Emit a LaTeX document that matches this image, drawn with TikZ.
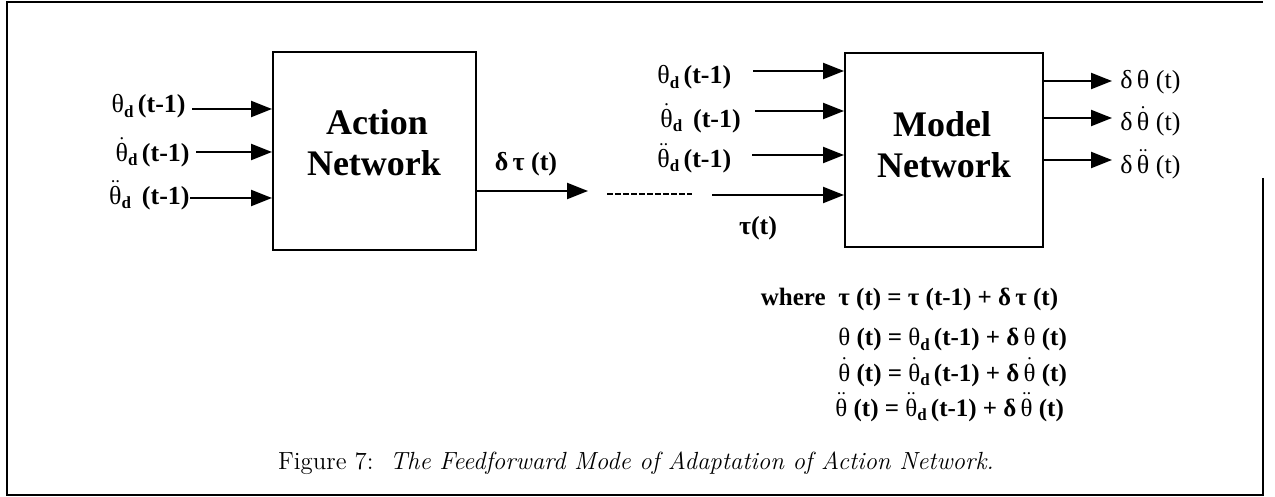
\documentclass[tikz,border=0pt]{standalone}
\usepackage{fontspec}
\usetikzlibrary{arrows.meta}
\newfontfamily\tms{Liberation Serif}
\newcommand{\gth}{{\mdseries θ}}
\newcommand{\thA}{\ensuremath{\dot{\hbox{\gth}}}}
\newcommand{\thB}{\ensuremath{\ddot{\hbox{\gth}}}}
\newcommand{\sd}{\raisebox{-0.4ex}{\fontsize{8.5}{8.5}\selectfont\bfseries d}}
\begin{document}
\begin{tikzpicture}[x=0.5pt,y=-0.5pt,
  lbl/.style={font=\tms\bfseries\fontsize{13}{15}\selectfont, inner sep=0pt},
  olbl/.style={font=\tms\fontsize{13}{15}\selectfont, inner sep=0pt, anchor=west},
  eqn/.style={font=\tms\bfseries\fontsize{12.5}{14}\selectfont, inner sep=0pt, anchor=base west},
  netbox/.style={draw, line width=1pt, inner sep=0pt},
  arr/.style={line width=1.1pt, -{Triangle[length=10.5pt,width=8pt]}},
  title/.style={font=\tms\bfseries\fontsize{18}{22}\selectfont, inner sep=0pt}]
\useasboundingbox (0,0) rectangle (1275,497);
% frame
\draw[line width=1pt] (1263,178) -- (1263,495) -- (7,495) -- (7,2) -- (1263,2);

% boxes
\node[netbox, minimum width=101.5pt, minimum height=99pt] (act) at (374.5,151) {};
\node[netbox, minimum width=99pt, minimum height=97pt] (mod) at (944,150) {};
\node[title] (acttxt) at (377,122) {Action};
\node[title] (actnet) at (374,163) {Network};
\node[title] (modtxt) at (942,124) {Model};
\node[title] (modnet) at (944,165) {Network};

% inputs of action network
\node[lbl, anchor=east] (al1) at (186,106) {\gth\sd\,(t-1)};
\node[lbl, anchor=east] (al2) at (190,152) {\thA\sd\,(t-1)};
\node[lbl, anchor=east] (al3) at (190,195) {\thB\sd\ \,(t-1)};
\coordinate (ai1) at (192,109);
\coordinate (ai2) at (196,152);
\coordinate (ai3) at (190,198);
\draw[arr] (ai1) -- (ai1 -| act.west);
\draw[arr] (ai2) -- (ai2 -| act.west);
\draw[arr] (ai3) -- (ai3 -| act.west);

% output of action network
\coordinate (dtend) at (588,191);
\draw[arr] (act.east |- dtend) -- (dtend);
\node[lbl] (dtl) at (526,164) {δ\,τ (t)};

% dashed gap
\coordinate (d1) at (607,194);
\coordinate (d2) at (692,194);
\draw[line width=1pt, dash pattern=on 3pt off 1pt] (d1) -- (d2);

% inputs of model network
\node[lbl, anchor=west] (ml1) at (657,77) {\gth\sd\,(t-1)};
\node[lbl, anchor=west] (ml2) at (660,118) {\thA\sd\ \,(t-1)};
\node[lbl, anchor=west] (ml3) at (657,158) {\thB\sd\,(t-1)};
\coordinate (mi1) at (753,71);
\coordinate (mi2) at (755,111);
\coordinate (mi3) at (752,155);
\coordinate (mi4) at (712,195);
\draw[arr] (mi1) -- (mi1 -| mod.west);
\draw[arr] (mi2) -- (mi2 -| mod.west);
\draw[arr] (mi3) -- (mi3 -| mod.west);
\draw[arr] (mi4) -- (mi4 -| mod.west);
\node[lbl] (taul) at (758,228) {τ(t)};

% outputs of model network
\coordinate (mo1) at (1112,81);
\coordinate (mo2) at (1112,118);
\coordinate (mo3) at (1112,160);
\draw[arr] (mo1 -| mod.east) -- (mo1);
\draw[arr] (mo2 -| mod.east) -- (mo2);
\draw[arr] (mo3 -| mod.east) -- (mo3);
\node[olbl] (ol1) at (1120,82) {δ\,θ (t)};
\node[olbl] (ol2) at (1120,121) {δ\,\thA{} (t)};
\node[olbl] (ol3) at (1120,164) {δ\,\thB{} (t)};

% equations
\node[eqn, anchor=base east] (where) at (826,306) {where};
\node[eqn] (eq1) at (838,306) {τ (t) = τ (t-1) + δ\,τ (t)};
\node[eqn] (eq2) at (838,346) {\gth{} (t) = \gth\sd\,(t-1) + δ\,\gth{} (t)};
\node[eqn] (eq3) at (838,381) {\thA{} (t) = \thA\sd\,(t-1) + δ\,\thA{} (t)};
\node[eqn] (eq4) at (835,416) {\thB{} (t) = \thB\sd\,(t-1) + δ\,\thB{} (t)};

% caption
\node[font=\fontsize{12.4}{14}\selectfont, inner sep=0pt] (cap) at (636,463)
  {Figure 7:\ \ \textit{The Feedforward Mode of Adaptation of Action Network.}};
\end{tikzpicture}
\end{document}
